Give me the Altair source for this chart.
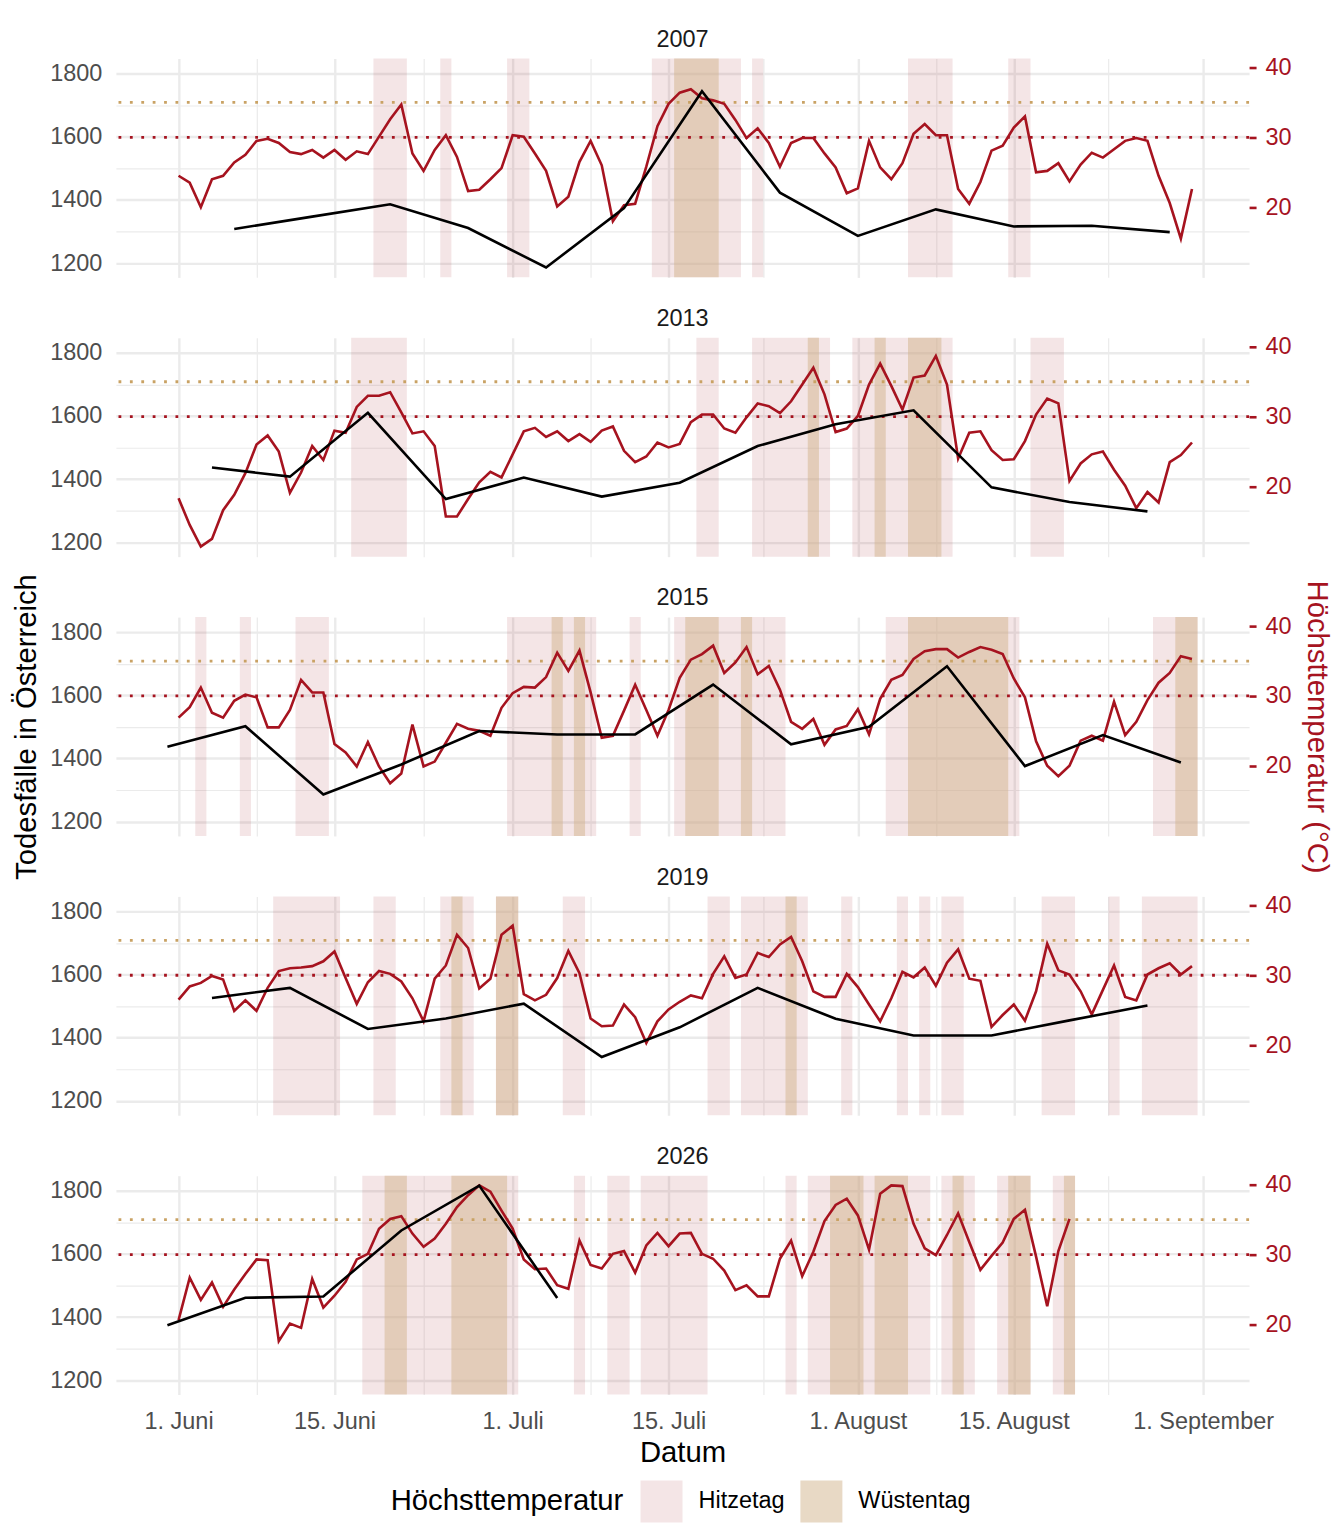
import altair as alt
import pandas as pd

# ---------------------------------------------------------------- data
YEARS = ["2007", "2013", "2015", "2019", "2026"]

# daily maximum temperature (°C), starting 1 June
TEMP_2007 = [24.5, 23.5, 20.0, 24.0, 24.5, 26.4, 27.5, 29.5, 29.8, 29.2,
             27.9, 27.6, 28.2, 27.1, 28.2, 26.8, 28.0, 27.6, 30.1, 32.6,
             34.7, 27.7, 25.2, 28.2, 30.3, 27.2, 22.3, 22.5, 24.0, 25.6,
             30.3, 30.1, 27.7, 25.2, 20.1, 21.5, 26.5, 29.5, 26.0, 18.0,
             20.3, 20.5, 25.8, 31.6, 34.8, 36.4, 36.9, 35.6, 35.3, 34.8,
             32.5, 29.9, 31.3, 29.2, 25.8, 29.2, 29.9, 29.9, 27.7, 25.7,
             22.0, 22.7, 29.5, 25.7, 24.0, 26.3, 30.5, 31.9, 30.3, 30.3,
             22.6, 20.5, 23.6, 28.1, 28.8, 31.4, 33.0, 25.0, 25.2, 26.3,
             23.7, 26.1, 27.8, 27.1, 28.3, 29.5, 29.9, 29.5, 24.5, 20.6,
             15.5, 22.6]
TEMP_2013 = [18.3, 14.5, 11.4, 12.5, 16.6, 18.8, 21.9, 26.0, 27.3, 25.0,
             19.1, 22.0, 25.8, 23.8, 28.0, 27.7, 31.4, 33.0, 33.0, 33.5,
             30.6, 27.6, 27.9, 25.8, 15.7, 15.7, 18.2, 20.6, 22.1, 21.3,
             24.6, 27.9, 28.4, 27.1, 27.9, 26.5, 27.5, 26.4, 28.0, 28.6,
             25.1, 23.5, 24.3, 26.3, 25.6, 26.1, 29.2, 30.3, 30.3, 28.3,
             27.7, 29.9, 31.9, 31.5, 30.5, 32.2, 34.6, 37.0, 33.2, 27.8,
             28.3, 30.1, 34.6, 37.6, 34.4, 31.0, 35.6, 35.9, 38.7, 34.6,
             24.0, 27.7, 27.9, 25.2, 23.8, 23.9, 26.5, 30.3, 32.6, 31.9,
             20.8, 23.3, 24.6, 25.0, 22.4, 20.1, 16.9, 19.2, 17.7, 23.5,
             24.5, 26.3]
TEMP_2015 = [26.9, 28.4, 31.2, 27.6, 26.9, 29.3, 30.2, 29.8, 25.5, 25.5,
             28.0, 32.3, 30.5, 30.5, 23.1, 21.9, 19.9, 23.4, 19.9, 17.5,
             18.9, 25.9, 19.9, 20.6, 23.3, 26.0, 25.3, 25.0, 24.3, 28.3,
             30.4, 31.3, 31.2, 32.7, 36.2, 33.6, 36.5, 30.5, 24.0, 24.3,
             27.9, 31.6, 28.0, 24.3, 28.0, 32.6, 35.2, 36.0, 37.2, 33.3,
             34.8, 37.0, 33.1, 34.3, 30.9, 26.3, 25.3, 26.7, 23.0, 25.2,
             25.7, 28.1, 24.5, 29.6, 32.3, 33.0, 35.3, 36.4, 36.7, 36.7,
             35.5, 36.3, 37.0, 36.6, 36.0, 32.5, 29.8, 23.5, 20.0, 18.5,
             20.0, 23.6, 24.3, 23.6, 29.2, 24.4, 26.3, 29.4, 31.9, 33.3,
             35.7, 35.3]
TEMP_2019 = [26.5, 28.4, 28.9, 29.9, 29.4, 24.9, 26.4, 24.9, 28.2, 30.6,
             31.0, 31.1, 31.3, 32.0, 33.4, 29.6, 25.9, 29.0, 30.6, 30.2,
             29.1, 26.7, 23.4, 29.5, 31.4, 35.8, 33.9, 28.1, 29.5, 35.8,
             37.1, 27.3, 26.4, 27.2, 29.6, 33.5, 30.3, 23.8, 22.7, 22.8,
             25.8, 24.0, 20.3, 23.4, 25.1, 26.2, 27.1, 26.7, 30.2, 32.7,
             29.6, 30.1, 33.2, 32.6, 34.4, 35.5, 32.0, 27.7, 26.9, 26.9,
             30.2, 28.3, 25.8, 23.4, 26.7, 30.5, 29.7, 31.1, 28.5, 31.8,
             33.7, 29.5, 29.2, 22.6, 24.3, 25.8, 23.5, 27.7, 34.5, 30.7,
             30.1, 27.7, 24.4, 27.9, 31.4, 26.9, 26.4, 30.1, 31.0, 31.7,
             30.1, 31.3]
TEMP_2026 = [20.6, 26.7, 23.5, 26.0, 22.5, 25.0, 27.2, 29.3, 29.2, 17.6,
             20.1, 19.5, 26.5, 22.4, 24.1, 26.1, 29.3, 30.1, 33.7, 35.1,
             35.5, 33.0, 31.1, 32.3, 34.4, 36.8, 38.5, 39.9, 39.0, 36.3,
             33.7, 29.3, 27.9, 28.0, 25.6, 25.1, 32.0, 28.5, 28.0, 30.1,
             30.5, 27.4, 31.3, 33.1, 31.2, 33.0, 33.1, 30.1, 29.4, 27.7,
             24.9, 25.6, 24.0, 24.0, 29.4, 32.0, 26.9, 30.4, 34.8, 37.1,
             38.0, 35.6, 30.7, 38.7, 39.9, 39.8, 34.4, 30.9, 29.9, 32.8,
             35.9, 31.8, 27.8, 29.8, 31.7, 35.1, 36.4, 29.7, 22.6, 30.5,
             35.1]

# weekly deaths in Austria
DEATH_DATES_2007 = ["06-06", "06-13", "06-20", "06-27", "07-04", "07-11", "07-18",
                    "07-25", "08-01", "08-08", "08-15", "08-22", "08-29"]
DEATHS_2007 = [1308, 1347, 1386, 1311, 1186, 1374, 1744, 1423, 1286, 1370, 1316, 1318, 1298]
DEATH_DATES_2013 = ["06-04", "06-11", "06-18", "06-25", "07-02", "07-09", "07-16",
                    "07-23", "07-30", "08-06", "08-13", "08-20", "08-27"]
DEATHS_2013 = [1437, 1408, 1610, 1337, 1405, 1345, 1389, 1505, 1574, 1618, 1374, 1328, 1298]
DEATH_DATES_2015 = ["05-31", "06-07", "06-14", "06-21", "06-28", "07-05", "07-12",
                    "07-19", "07-26", "08-02", "08-09", "08-16", "08-23", "08-30"]
DEATHS_2015 = [1437, 1502, 1286, 1381, 1487, 1476, 1476, 1634, 1445, 1500, 1692, 1376, 1474, 1387]
DEATH_DATES_2019 = ["06-04", "06-11", "06-18", "06-25", "07-02", "07-09", "07-16",
                    "07-23", "07-30", "08-06", "08-13", "08-20", "08-27"]
DEATHS_2019 = [1526, 1558, 1428, 1461, 1508, 1339, 1433, 1558, 1460, 1407, 1407, 1455, 1502]
DEATH_DATES_2026 = ["05-31", "06-07", "06-14", "06-21", "06-28", "07-05"]
DEATHS_2026 = [1374, 1461, 1465, 1674, 1816, 1460]

# runs of hot days (Hitzetag >= 30 °C, Wüstentag >= 35 °C)
HITZE_2007 = [("06-19", "06-21"), ("06-25", "06-25"), ("07-01", "07-02"), ("07-14", "07-21"),
              ("07-23", "07-23"), ("08-06", "08-09"), ("08-15", "08-16")]
WUESTE_2007 = [("07-16", "07-19")]
HITZE_2013 = [("06-17", "06-21"), ("07-18", "07-19"), ("07-23", "07-29"), ("08-01", "08-09"),
              ("08-17", "08-19")]
WUESTE_2013 = [("07-28", "07-28"), ("08-03", "08-03"), ("08-06", "08-08")]
HITZE_2015 = [("06-03", "06-03"), ("06-07", "06-07"), ("06-12", "06-14"), ("07-01", "07-08"),
              ("07-12", "07-12"), ("07-16", "07-25"), ("08-04", "08-15"), ("08-28", "08-31")]
WUESTE_2015 = [("07-05", "07-05"), ("07-07", "07-07"), ("07-17", "07-19"), ("07-22", "07-22"),
               ("08-06", "08-14"), ("08-30", "08-31")]
HITZE_2019 = [("06-10", "06-15"), ("06-19", "06-20"), ("06-25", "06-27"), ("06-30", "07-01"),
              ("07-06", "07-07"), ("07-19", "07-20"), ("07-22", "07-27"), ("07-31", "07-31"),
              ("08-05", "08-05"), ("08-07", "08-07"), ("08-09", "08-10"), ("08-18", "08-20"),
              ("08-24", "08-24"), ("08-27", "08-31")]
WUESTE_2019 = [("06-26", "06-26"), ("06-30", "07-01"), ("07-26", "07-26")]
HITZE_2026 = [("06-18", "07-01"), ("07-07", "07-07"), ("07-10", "07-11"), ("07-13", "07-18"),
              ("07-26", "07-26"), ("07-28", "08-07"), ("08-09", "08-11"), ("08-14", "08-16"),
              ("08-19", "08-20")]
WUESTE_2026 = [("06-20", "06-21"), ("06-26", "06-30"), ("07-30", "08-01"), ("08-03", "08-05"),
               ("08-10", "08-10"), ("08-15", "08-16"), ("08-20", "08-20")]

THRESHOLDS = [30, 35]
CATEGORIES = ["Hitzetag", "Wüstentag"]

MAJOR_DATES = ["06-01", "06-15", "07-01", "07-15", "08-01", "08-15", "09-01"]
MAJOR_LABELS = ["1. Juni", "15. Juni", "1. Juli", "15. Juli", "1. August", "15. August", "1. September"]
DEATH_TICKS = [1200, 1300, 1400, 1500, 1600, 1700, 1800]
TEMP_TICKS = [20, 30, 40]

TEMPS = dict(zip(YEARS, [TEMP_2007, TEMP_2013, TEMP_2015, TEMP_2019, TEMP_2026]))
DDATES = dict(zip(YEARS, [DEATH_DATES_2007, DEATH_DATES_2013, DEATH_DATES_2015, DEATH_DATES_2019, DEATH_DATES_2026]))
DEATHS = dict(zip(YEARS, [DEATHS_2007, DEATHS_2013, DEATHS_2015, DEATHS_2019, DEATHS_2026]))
HITZE = dict(zip(YEARS, [HITZE_2007, HITZE_2013, HITZE_2015, HITZE_2019, HITZE_2026]))
WUESTE = dict(zip(YEARS, [WUESTE_2007, WUESTE_2013, WUESTE_2015, WUESTE_2019, WUESTE_2026]))

# ---------------------------------------------------------------- style
FONT = "Liberation Sans"
RED = "#a6131f"
GOLD = "#c9a264"
PINK = "rgba(165,40,50,0.12)"
TAN = "rgba(210,180,140,0.5)"
GRID = "#ebebeb"
W, H = 1134, 219
PANEL_GAP = 60.5
TITLE_OFFSET = 4
# the middle panel carries the long rotated axis titles, which reach ~40 px above its plot area
MIDDLE_TITLE_OFFSET = TITLE_OFFSET - 40


def day(year, md):
    return (pd.Timestamp(f"{year}-{md}") - pd.Timestamp(f"{year}-06-01")).days


# x ticks (days since 1 June), minor ticks halfway between majors
MAJOR = [day("2007", m) for m in MAJOR_DATES]
MINOR = [(a + b) / 2 for a, b in zip(MAJOR[:-1], MAJOR[1:])]
X_TICKS = sorted(MAJOR + MINOR)
X_LABEL_EXPR = "".join(f"datum.value == {v} ? '{lab}' : " for v, lab in zip(MAJOR, MAJOR_LABELS)) + "''"
MAJOR_TEST = "indexof([" + ",".join(str(v) for v in MAJOR) + "], datum.value) >= 0"

# frames
temp_frames, death_frames, rect_frames = {}, {}, {}
for y in YEARS:
    temp_frames[y] = pd.DataFrame({"d": list(range(len(TEMPS[y]))), "t": TEMPS[y]})
    death_frames[y] = pd.DataFrame({"d": [day(y, m) for m in DDATES[y]], "n": DEATHS[y]})
    rows = []
    for cat, runs in zip(CATEGORIES, [HITZE[y], WUESTE[y]]):
        for a, b in runs:
            rows.append({"x0": day(y, a) - 0.5, "x1": day(y, b) + 0.5, "typ": cat})
    rect_frames[y] = pd.DataFrame(rows)

x_lo = min(min(f["d"].min() for f in death_frames.values()), 0)
x_hi = max(f["x1"].max() for f in rect_frames.values())
pad = 0.05 * (x_hi - x_lo)
XDOM = [x_lo - pad, x_hi + pad]

DS = alt.Scale(domain=[1154.8, 1847.4], nice=False, zero=False)
TS = alt.Scale(domain=[9.95, 41.29], nice=False, zero=False)
XS = alt.Scale(domain=XDOM, nice=False, zero=False)

GRID_W = {"condition": {"test": "datum.value % 200 === 0", "value": 2.4}, "value": 1.2}
XGRID_W = {"condition": {"test": MAJOR_TEST, "value": 2.4}, "value": 1.2}


def x_axis(bottom):
    kw = dict(values=X_TICKS, labelExpr=X_LABEL_EXPR, grid=True, gridColor=GRID, gridWidth=XGRID_W,
              ticks=False, tickSize=0, domain=False, labelFlush=False, labelOverlap=False,
              labelFontSize=23.5, labelColor="#4d4d4d", labelPadding=15, labels=bottom)
    if bottom:
        kw.update(title="Datum", titleFontSize=29.3, titleFontWeight="normal", titleColor="black",
                  titlePadding=6)
    else:
        kw.update(title=None)
    return alt.Axis(**kw)


def d_axis(middle):
    kw = dict(orient="left", values=DEATH_TICKS, format="d",
              labelExpr="datum.value % 200 === 0 ? datum.label : ''",
              grid=True, gridColor=GRID, gridWidth=GRID_W, ticks=False, tickSize=0, domain=False,
              labelFlush=False, labelOverlap=False, labelFontSize=23.5, labelColor="#4d4d4d",
              labelPadding=14)
    if middle:
        kw.update(title="Todesfälle in Österreich", titleFontSize=29.3, titleFontWeight="normal",
                  titleColor="black", titlePadding=8)
    else:
        kw.update(title=None)
    return alt.Axis(**kw)


def t_axis(middle):
    kw = dict(orient="right", values=TEMP_TICKS, format="d", grid=False, domain=False, ticks=True,
              tickColor=RED, tickWidth=2.6, tickSize=7, labelColor=RED, labelFontSize=23.5,
              labelPadding=9, labelFlush=False, labelOverlap=False)
    if middle:
        kw.update(title="Höchsttemperatur (°C)", titleColor=RED, titleFontSize=29.3,
                  titleFontWeight="normal", titlePadding=10)
    else:
        kw.update(title=None)
    return alt.Axis(**kw)


LEGEND = alt.Legend(title="Höchsttemperatur", orient="none", legendX=275, legendY=1423,
                    direction="horizontal", titleOrient="left", titleFontSize=29.3,
                    titleFontWeight="normal", titleColor="black", titlePadding=17, titleLimit=500,
                    titleAnchor="middle", titleBaseline="middle",
                    labelFontSize=23.5, labelColor="black", labelOffset=16, columnPadding=15,
                    labelLimit=300,
                    symbolType="square", symbolSize=1764, symbolStrokeWidth=0, padding=0)


def panel(year, bottom, middle):
    xa = x_axis(bottom)
    rect = alt.Chart(rect_frames[year]).mark_rect().encode(
        x=alt.X("x0:Q", scale=XS, axis=xa),
        x2="x1:Q",
        color=alt.Color("typ:N", scale=alt.Scale(domain=CATEGORIES, range=[PINK, TAN]), legend=LEGEND),
    )
    rules = []
    for thr, col in zip(THRESHOLDS, [RED, GOLD]):
        rules.append(
            alt.Chart(pd.DataFrame({"t": [thr]})).mark_rule(
                color=col, strokeDash=[2.8, 8.6], strokeWidth=2.8, strokeCap="butt"
            ).encode(y=alt.Y("t:Q", scale=TS, axis=None))
        )
    temp = alt.Chart(temp_frames[year]).mark_line(color=RED, strokeWidth=2.6).encode(
        x=alt.X("d:Q", scale=XS, axis=xa),
        y=alt.Y("t:Q", scale=TS, axis=t_axis(middle)),
    )
    death = alt.Chart(death_frames[year]).mark_line(color="black", strokeWidth=2.6).encode(
        x=alt.X("d:Q", scale=XS, axis=xa),
        y=alt.Y("n:Q", scale=DS, axis=d_axis(middle)),
    )
    return alt.layer(rect, *rules, temp, death).resolve_scale(y="independent").properties(
        width=W, height=H,
        title=alt.TitleParams(text=year, fontSize=23.5, fontWeight="normal", color="#1a1a1a",
                              anchor="middle", frame="group",
                              offset=MIDDLE_TITLE_OFFSET if middle else TITLE_OFFSET),
    )


panels = [panel(y, i == len(YEARS) - 1, i == 2) for i, y in enumerate(YEARS)]

chart = alt.vconcat(*panels, spacing=PANEL_GAP, bounds="flush").properties(
    padding={"left": 4, "top": 19, "right": 5, "bottom": 5}
).configure(font=FONT).configure_view(stroke=None)

chart.save("out.html", embed_options={"renderer": "svg", "actions": False})
